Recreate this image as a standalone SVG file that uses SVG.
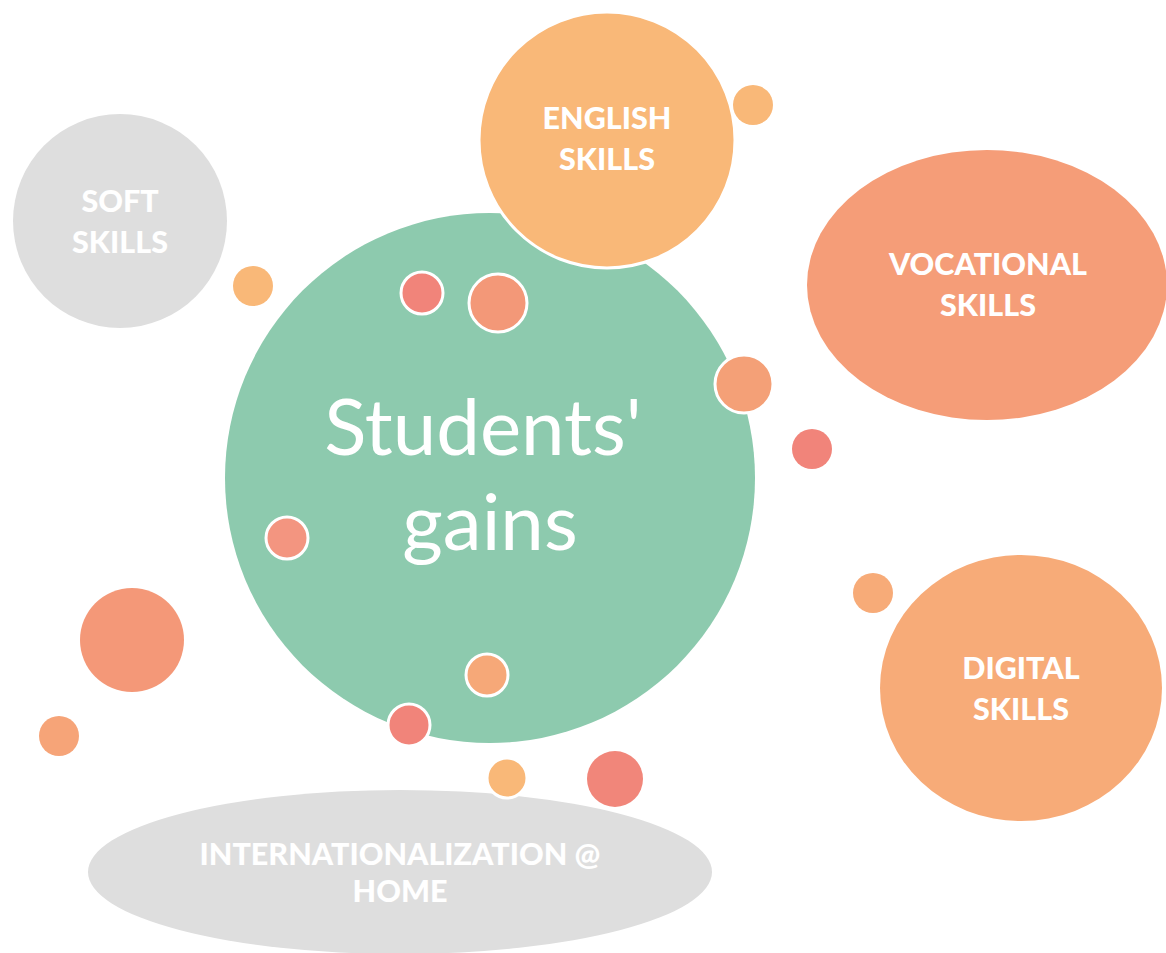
<svg xmlns="http://www.w3.org/2000/svg" width="1166" height="953" viewBox="0 0 1166 953">
<style>
.lbl{font-family:Lato,"Open Sans","Liberation Sans",sans-serif;font-weight:900;font-size:30.5px;fill:#FFFFFF;text-anchor:middle}
.main{font-family:Lato,"Noto Sans","Liberation Sans",sans-serif;font-size:78px;fill:#FFFFFF;text-anchor:middle}
.ws{stroke:#FFFFFF;stroke-width:3}
</style>
<rect width="1166" height="953" fill="#FFFFFF"/>
<g id="main-node">
<circle cx="490" cy="478" r="265" fill="#8DCAAE"/>
<text class="main" x="483" y="455">Students'</text>
<text class="main" x="490" y="550">gains</text>
</g>
<g id="english-node">
<circle cx="607" cy="140" r="128" fill="#F9B878" class="ws"/>
<text class="lbl" x="607" y="129">ENGLISH</text>
<text class="lbl" x="607" y="170">SKILLS</text>
</g>
<g id="soft-node">
<circle cx="120" cy="221" r="107" fill="#DEDEDE"/>
<text class="lbl" x="120" y="212">SOFT</text>
<text class="lbl" x="120" y="253">SKILLS</text>
</g>
<g id="vocational-node">
<ellipse cx="987" cy="285" rx="180" ry="135" fill="#F59D78"/>
<text class="lbl" x="988" y="275">VOCATIONAL</text>
<text class="lbl" x="988" y="316">SKILLS</text>
</g>
<g id="digital-node">
<ellipse cx="1021" cy="688" rx="141" ry="133" fill="#F7AB78"/>
<text class="lbl" x="1021" y="679">DIGITAL</text>
<text class="lbl" x="1021" y="720">SKILLS</text>
</g>
<g id="home-node">
<ellipse cx="400" cy="872" rx="312" ry="82" fill="#DEDEDE"/>
<text class="lbl" x="400" y="865">INTERNATIONALIZATION @</text>
<text class="lbl" x="400" y="902">HOME</text>
</g>
<g id="connectors">
<circle cx="753" cy="105" r="20" fill="#F9B878"/>
<circle cx="253" cy="286" r="20" fill="#F9B878"/>
<circle cx="422" cy="293" r="21" fill="#F1847A" class="ws"/>
<circle cx="498" cy="303" r="29" fill="#F39878" class="ws"/>
<circle cx="744" cy="384" r="29" fill="#F4A077" class="ws"/>
<circle cx="812" cy="449" r="20" fill="#F1847A"/>
<circle cx="287" cy="538" r="21" fill="#F39580" class="ws"/>
<circle cx="873" cy="593" r="20" fill="#F7AB78"/>
<circle cx="132" cy="640" r="52" fill="#F49878"/>
<circle cx="59" cy="736" r="20" fill="#F6A478"/>
<circle cx="487" cy="675" r="21" fill="#F6A878" class="ws"/>
<circle cx="409" cy="725" r="21" fill="#F1847A" class="ws"/>
<circle cx="507" cy="778" r="20" fill="#F9B878" class="ws"/>
<circle cx="615" cy="779" r="28" fill="#F1867A"/>
</g>
</svg>
